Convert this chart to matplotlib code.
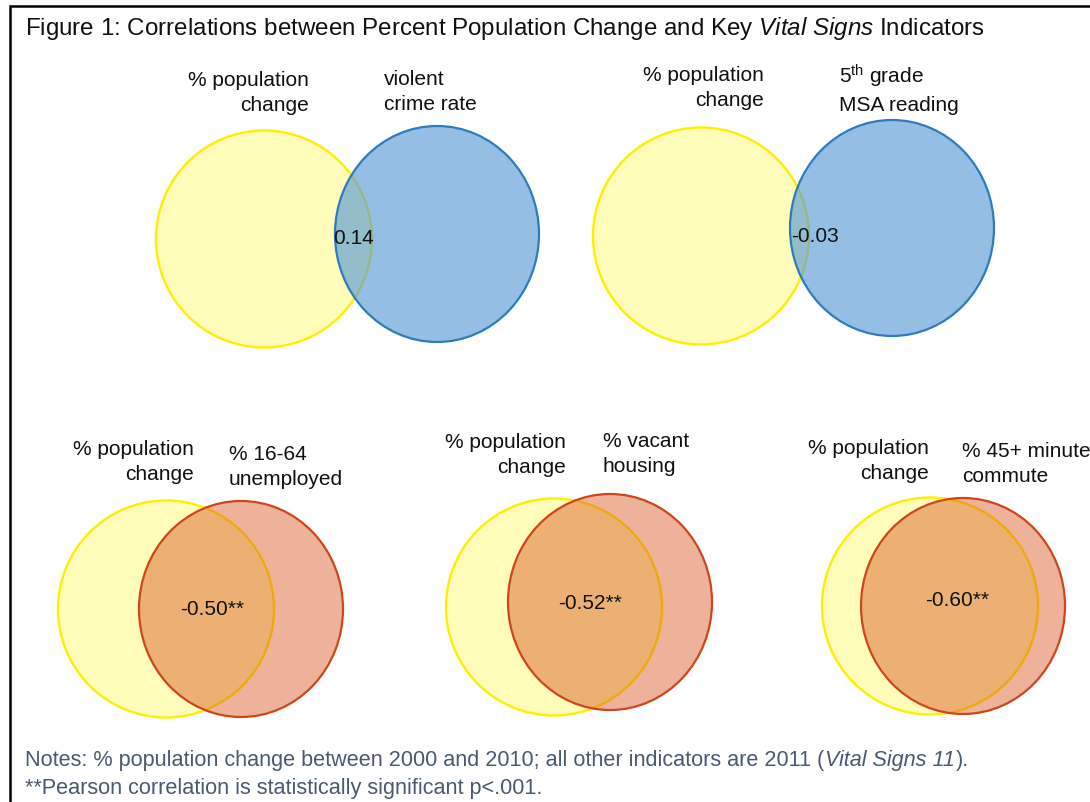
import matplotlib.pyplot as plt
from matplotlib.patches import Ellipse
from matplotlib.colors import to_rgba

plt.rcParams['font.family'] = ['Liberation Sans', 'DejaVu Sans']
plt.rcParams['mathtext.fontset'] = 'custom'
plt.rcParams['mathtext.rm'] = 'Liberation Sans'
plt.rcParams['mathtext.it'] = 'Liberation Sans:italic'

# data
base_label = "% population\nchange"
indicators = ["violent\ncrime rate",
              "5$^{\\mathrm{th}}$ grade\nMSA reading",
              "% 16-64\nunemployed",
              "% vacant\nhousing",
              "% 45+ minute\ncommute"]
correlations = [0.14, -0.03, -0.50, -0.52, -0.60]
significant = [False, False, True, True, True]
circle_kind = ["blue", "blue", "red", "red", "red"]

# layout (pixel positions on the page)
yellow_xy = [(264, 240), (701, 237), (166, 610), (554, 608), (930, 607)]
other_xy = [(437, 235), (892, 229), (241, 610), (610, 603), (963, 607)]
yellow_wh = (216, 217)
other_wh = (204, 216)
value_xy = [(354, 238), (815, 236), (212, 610), (590, 604), (957, 601)]
base_xy = [(309, 93), (764, 88), (194, 462), (566, 455), (929, 461)]
ind_xy = [(384, 92), (839, 89), (229, 467), (603, 454), (962, 464)]

styles = {
    "blue": dict(face=to_rgba('#5B9BD5', 0.65), edge='#2E7BBF'),
    "red": dict(face=to_rgba('#D9541E', 0.45), edge='#D0451B'),
}

fig = plt.figure(figsize=(10.9, 8.03), dpi=100)
ax = fig.add_axes([0, 0, 1, 1])
ax.set_xlim(0, 1090)
ax.set_ylim(803, 0)
ax.axis('off')

# frame (top and left edge only visible)
ax.plot([10, 10, 1090], [803, 7, 7], color='black', lw=1.8, solid_joinstyle='miter')

ax.text(25, 29, "Figure 1: Correlations between Percent Population Change and Key "
        "$\\it{Vital\\ Signs}$ Indicators", fontsize=17.4, va='center', ha='left',
        color='#111111')

for i in range(len(correlations)):
    ax.add_patch(Ellipse(yellow_xy[i], yellow_wh[0], yellow_wh[1],
                         facecolor='#FFFDB9', edgecolor='#FFF000', lw=1.7))
    st = styles[circle_kind[i]]
    ax.add_patch(Ellipse(other_xy[i], other_wh[0], other_wh[1],
                         facecolor=st["face"], edgecolor=st["edge"], lw=1.6))
    txt = f"{correlations[i]:.2f}" + ("**" if significant[i] else "")
    ax.text(value_xy[i][0], value_xy[i][1], txt, fontsize=15,
            ha='center', va='center', color='#111111')
    ax.text(base_xy[i][0], base_xy[i][1], base_label, fontsize=15,
            ha='right', va='center', multialignment='right',
            linespacing=1.4, color='#111111')
    ax.text(ind_xy[i][0], ind_xy[i][1], indicators[i], fontsize=15,
            ha='left', va='center', multialignment='left',
            linespacing=1.4, color='#111111')

# notes, first line drawn in runs so the italic part includes the digits
note_color = '#4A5A72'
renderer = fig.canvas.get_renderer()
x = 25
for s, st in [("Notes: % population change between 2000 and 2010; all other indicators "
               "are 2011 (", 'normal'), ("Vital Signs 11", 'italic'), (").", 'normal')]:
    t = ax.text(x, 761, s, fontsize=15.6, color=note_color, ha='left', va='center',
                style=st)
    x += t.get_window_extent(renderer).width + 1
ax.text(25, 789, "**Pearson correlation is statistically significant p<.001.",
        fontsize=15.6, color=note_color, ha='left', va='center')

fig.savefig('out.png', dpi=100)
